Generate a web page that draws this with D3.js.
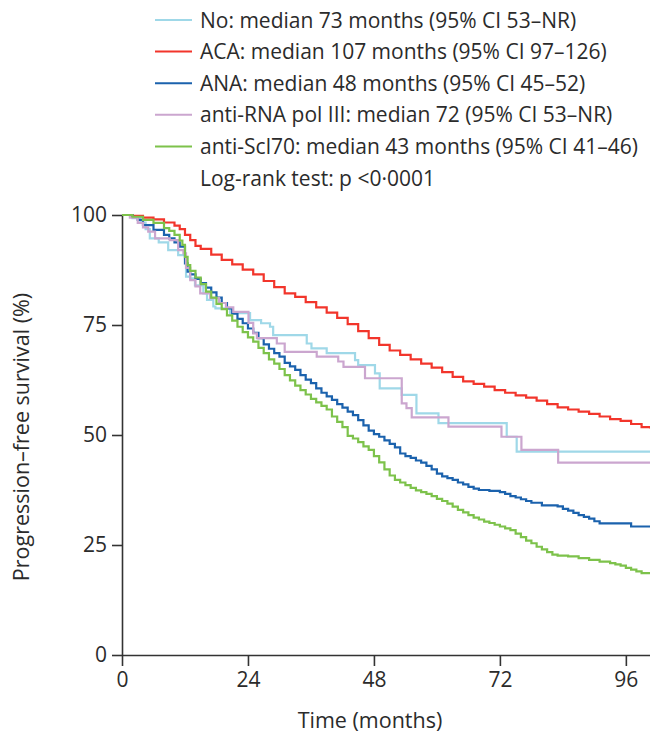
<!DOCTYPE html>
<html>
<head>
<meta charset="utf-8">
<script src="https://cdn.jsdelivr.net/npm/d3@7"></script>
<style>
  body { margin: 0; background: #fff; }
  svg { display: block; font-family: "Open Sans", "Noto Sans", sans-serif; }
</style>
</head>
<body>
<div id="km"></div>
<script>
// change points [month, % progression-free]
var noData = [[0,100],[2,99.3],[3.5,98.3],[4.5,96.8],[5.3,94.7],[7,93.8],[8.8,92],[10.7,90.9],[12,90.1],
  [12.2,86],[13,85.6],[13.9,84],[15.5,82.2],[16.2,80.7],[17.4,79.2],[17.8,78.8],[20.6,77.7],[24.4,76.1],
  [26.5,75.4],[28.2,74.6],[28.8,72.7],[35.2,70.8],[36.1,69.7],[39,68.6],[44.4,67],[45,65.9],[48.2,64],
  [49.1,60.6],[53.3,59.1],[56.1,54.9],[60.3,52.7],[73.3,49.6],[75.2,46.2],[100.6,46.2]];

var acaData = [[0,100],[2,99.8],[4,99.4],[6,99],[8,98.3],[10,97.6],[11,96.8],[12,95.5],[13,94.3],[14,93],
  [15,92.3],[17,91],[19,89.8],[21,88.8],[23,87.6],[25,86.5],[27,85],[29,83.6],[31,82.2],[33,81.4],[35,80.2],
  [37,79],[39,77.8],[41,76.6],[43,75.2],[45,73.6],[47,72],[49,70.5],[51,69.2],[53,68.2],[55,67.2],[57,66.2],
  [59,65.3],[61,64.3],[63,63.2],[65,62.2],[67,61.6],[69,61],[71,60.2],[73,59.6],[75,59],[77,58.5],[79,57.8],
  [81,57],[83,56.3],[85,55.8],[87,55.3],[89,54.8],[91,54.2],[93,53.6],[95,53.2],[97,52.5],[99,51.8],[100.6,51.5]];

var anaData = [[0,100],[2,99.5],[3,98.9],[4,97.7],[6,96.6],[8,95.5],[9,94.7],[10,93.8],[11,92.8],[12,89],
  [12.5,87.1],[13,86.5],[14,85.5],[15,84.5],[16,83.5],[17,82.4],[18,81.2],[19,80],[20,78.8],[21,77.6],[22,76.4],
  [23,75.4],[24,74.2],[25,73.2],[26,72],[27,70.6],[28,69.6],[29,68.6],[30,67.8],[31,66.4],[32,65.6],[33,64.8],
  [34,63.6],[35,62.6],[36,61.8],[37,60.6],[38,59.6],[39,58.8],[40,58],[41,57],[42,56.2],[43,55.3],[44,54.5],
  [45,53.4],[46,52.2],[47,51],[48,50.2],[49,49.6],[50,48.8],[51,48],[52,47.2],[53,45.8],[54,45.2],[55,44.8],
  [56,44.2],[57,43.7],[58,43],[59,42.2],[60,41.2],[61,40.6],[62,40.2],[63,39.8],[64,39.2],[65,38.8],[66,38.2],
  [67,37.8],[68,37.5],[70,37.3],[72,37],[73,36.6],[74,36.1],[75,35.8],[76,35.4],[77,35],[78,34.6],[80,34],
  [83,33.8],[84,33.2],[85,32.8],[86,32.3],[87,31.8],[88,31.4],[89,31],[90,30.4],[91,29.9],[97,29.2],[100.6,29.2]];

var polData = [[0,100],[1.5,99.4],[3,98.2],[4,97.2],[5,96.2],[6.3,94.7],[9.1,94.3],[10.7,92],[11.7,91.3],
  [12.2,88],[13,85.2],[14,83.8],[14.9,82.2],[16.8,81.1],[18.5,80],[19.8,79],[21.2,78],[24.1,75.5],[25,73.1],
  [25.7,72],[29.5,70.8],[31,68.9],[37.1,67.8],[41.2,66.7],[42.2,65.5],[46.3,62.9],[53.3,57.2],[54.2,56.1],
  [55.2,54],[62.2,51.9],[72.3,49.6],[76.1,46.6],[83.1,43.7],[100.6,43.7]];

var sclData = [[0,100],[2,99.6],[4,98.9],[6,98.2],[8,97],[9,96.4],[10,95.5],[11,94.2],[11.5,93.2],[12,90.5],
  [12.5,88.6],[13,87.3],[14,85.8],[15,84.3],[16,82.6],[17,81.2],[18,79.8],[19,78.6],[20,77.2],[21,76],[22,74.6],
  [23,73.4],[24,72.2],[25,71.2],[26,69.8],[27,68.6],[28,67.2],[29,66.2],[30,65],[31,63.6],[32,62.4],[33,61.2],
  [34,60.2],[35,59.2],[36,58.2],[37,57.4],[38,56.6],[39,55.8],[40,54.2],[41,53],[42,51.8],[43,49.8],[44,49.2],
  [45,48.4],[46,47.4],[47,46.6],[48,45.2],[49,43.8],[50,42.2],[51,40.8],[52,39.8],[53,39.2],[54,38.6],[55,38],
  [56,37.4],[57,37],[58,36.6],[59,36.1],[60,35.5],[61,35],[62,34.4],[63,33.7],[64,33],[65,32.4],[66,31.8],
  [67,31.2],[68,30.8],[69,30.3],[70,30],[71,29.6],[72,29.2],[73,28.8],[74,28.4],[75,27.6],[76,26.8],[77,26],
  [78,25.4],[79,24.6],[80,24],[81,23.4],[82,22.8],[83,22.6],[85,22.4],[87,22],[89,21.6],[91,21.2],[93,20.9],
  [94,20.6],[95,20.3],[96,19.8],[97,19.4],[98,19],[99,18.6],[100.6,18.4]];

var seriesLabels = ['No: median 73 months (95% CI 53\u2013NR)',
  'ACA: median 107 months (95% CI 97\u2013126)',
  'ANA: median 48 months (95% CI 45\u201352)',
  'anti-RNA pol III: median 72 (95% CI 53\u2013NR)',
  'anti-Scl70: median 43 months (95% CI 41\u201346)'];
var seriesColors = ['#9fd8e8', '#f2352b', '#1b62ad', '#cba6cf', '#7dc24b'];
var testLabel = 'Log-rank test: p <0\u00b70001';

var xTicks = [0, 24, 48, 72, 96];
var yTicks = [0, 25, 50, 75, 100];

var width = 650, height = 736;
var margin = {top: 215, right: 0, bottom: 81, left: 122};
var textColor = '#2b2b2b';

var svg = d3.select('#km').append('svg')
    .attr('width', width)
    .attr('height', height);

var x = d3.scaleLinear().domain([0, 100.6]).range([margin.left, width - margin.right]);
var y = d3.scaleLinear().domain([0, 100]).range([height - margin.bottom, margin.top]);

// legend
var legend = svg.append('g');
seriesLabels.forEach(function(lab, i) {
    var ly = 20 + i * 31.6;
    legend.append('line')
        .attr('x1', 155).attr('x2', 192)
        .attr('y1', ly).attr('y2', ly)
        .attr('stroke', seriesColors[i])
        .attr('stroke-width', 2);
    legend.append('text')
        .attr('x', 200)
        .attr('y', ly + 7.5)
        .attr('fill', textColor)
        .style('font-size', '21px')
        .text(lab);
});
legend.append('text')
    .attr('x', 200)
    .attr('y', 20 + 5 * 31.6 + 7.5)
    .attr('fill', textColor)
    .style('font-size', '21px')
    .text(testLabel);

// axes
var xAxis = svg.append('g')
    .attr('transform', 'translate(0,' + y(0) + ')')
    .call(d3.axisBottom(x).tickValues(xTicks).tickSize(11).tickPadding(6).tickSizeOuter(0));
var yAxis = svg.append('g')
    .attr('transform', 'translate(' + x(0) + ',0)')
    .call(d3.axisLeft(y).tickValues(yTicks).tickSize(10).tickPadding(5).tickSizeOuter(0));
[xAxis, yAxis].forEach(function(a) {
    a.select('.domain').attr('stroke', '#333').attr('stroke-width', 1.6);
    a.selectAll('.tick line').attr('stroke', '#333').attr('stroke-width', 1.6);
    a.selectAll('.tick text')
        .attr('fill', textColor)
        .style('font-size', '21px')
        .style('font-family', '"Open Sans", "Noto Sans", sans-serif');
});

svg.append('text')
    .attr('x', 370)
    .attr('y', 728)
    .attr('text-anchor', 'middle')
    .attr('fill', textColor)
    .style('font-size', '21.5px')
    .text('Time (months)');
svg.append('text')
    .attr('transform', 'translate(29,' + 437 + ') rotate(-90)')
    .attr('text-anchor', 'middle')
    .attr('fill', textColor)
    .style('font-size', '21.5px')
    .text('Progression\u2013free survival (%)');

// curves
var line = d3.line()
    .curve(d3.curveStepAfter)
    .x(function(d) { return x(d[0]); })
    .y(function(d) { return y(d[1]); });

[noData, acaData, anaData, polData, sclData].forEach(function(data, i) {
    svg.append('path')
        .datum(data)
        .attr('fill', 'none')
        .attr('stroke', seriesColors[i])
        .attr('stroke-width', 2.2)
        .attr('d', line);
});
</script>
</body>
</html>
